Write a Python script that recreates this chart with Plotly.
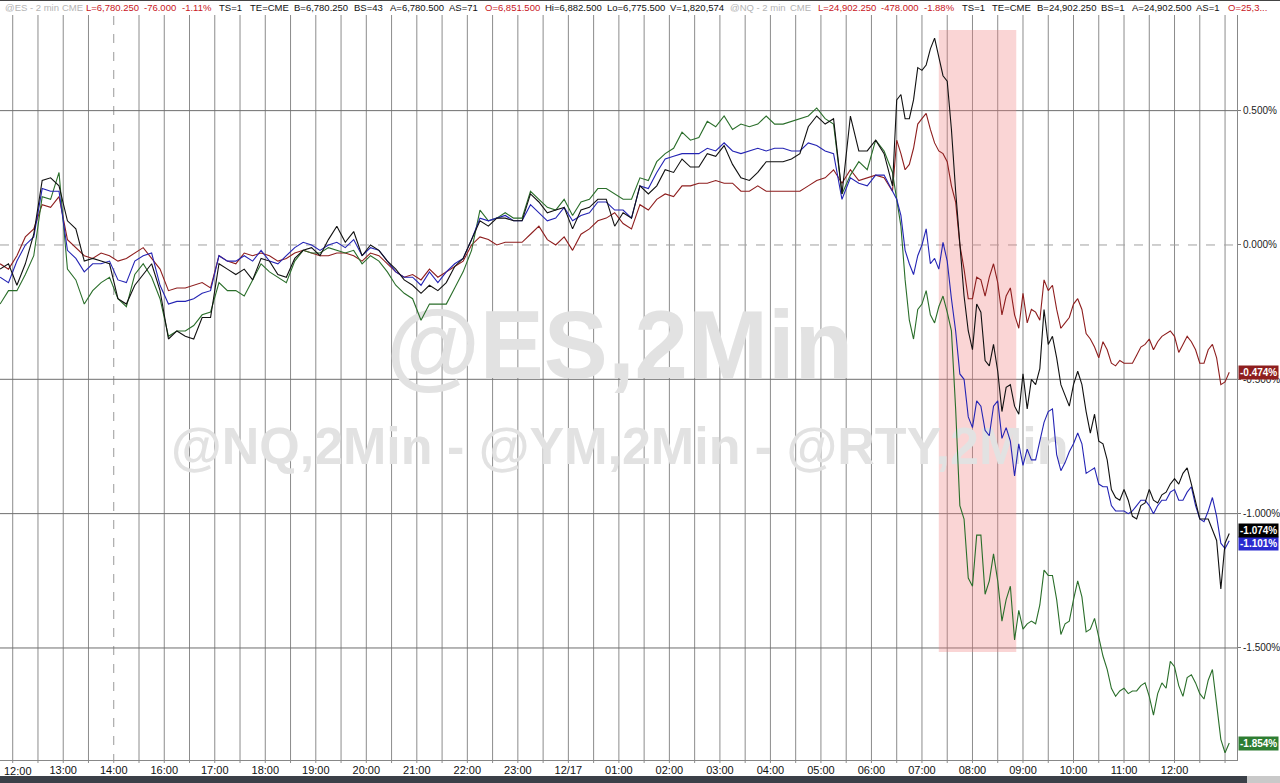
import pandas as pd
import plotly.graph_objects as go

# ---------------- time base (samples of the 2-min bars) ----------------
SESSION_OPEN = pd.Timestamp("2025-12-16 12:00")
BREAK_START = pd.Timestamp("2025-12-16 14:00")
BREAK_END = pd.Timestamp("2025-12-16 15:00")

times_a = pd.date_range("2025-12-16 11:45", "2025-12-17 06:15", freq="10min")
times_a = times_a[(times_a < BREAK_START) | (times_a >= BREAK_END)]
times_b = pd.date_range("2025-12-17 06:25", "2025-12-17 13:05", freq="5min")
bar_times = times_a.append(times_b)

# ---------------- % change series ----------------
ym_pct = [-0.07, -0.09, -0.04, 0.03, 0.06, 0.15, 0.14, 0.18, 0.02, -0.01,
          -0.04, -0.05, -0.03, -0.04, -0.06, -0.05, -0.03, -0.01, -0.05, -0.09,
          -0.17, -0.16, -0.16, -0.15, -0.14, -0.16, -0.04, -0.06, -0.07, -0.03,
          -0.04, -0.03, -0.04, -0.06, -0.05, -0.03, -0.02, -0.03, -0.04, -0.04,
          -0.03, -0.03, -0.04, -0.06, -0.03, -0.04, -0.07, -0.10, -0.12, -0.11,
          -0.13, -0.09, -0.12, -0.10, -0.08, -0.06, 0.00, 0.03, 0.02, 0.00,
          0.01, 0.01, 0.01, 0.04, 0.07, 0.02, 0.00, 0.03, -0.02, 0.04,
          0.06, 0.09, 0.10, 0.12, 0.08, 0.06, 0.15, 0.13, 0.17, 0.19,
          0.18, 0.22, 0.22, 0.23, 0.23, 0.24, 0.23, 0.23, 0.20, 0.20,
          0.22, 0.20, 0.20, 0.20, 0.20, 0.20, 0.22, 0.24, 0.25, 0.28,
          0.23, 0.28, 0.24, 0.25, 0.26, 0.25,
          0.20, 0.39, 0.34, 0.28, 0.30, 0.36, 0.45, 0.47, 0.49, 0.43,
          0.38, 0.35, 0.34, 0.31, 0.22, 0.16, 0.00, -0.09, -0.20, -0.20,
          -0.12, -0.13, -0.19, -0.12, -0.07, -0.14, -0.26, -0.19, -0.16, -0.26,
          -0.31, -0.18, -0.29, -0.24, -0.25, -0.28, -0.13, -0.17, -0.15, -0.24,
          -0.31, -0.29, -0.27, -0.22, -0.20, -0.24, -0.33, -0.35, -0.38, -0.42,
          -0.36, -0.39, -0.44, -0.45, -0.43, -0.44, -0.44, -0.44, -0.41, -0.38,
          -0.37, -0.35, -0.39, -0.36, -0.34, -0.33, -0.32, -0.34, -0.40, -0.37,
          -0.34, -0.36, -0.39, -0.44, -0.44, -0.39, -0.37, -0.42, -0.52, -0.51,
          -0.474]

nq_pct = [-0.09, -0.07, -0.15, -0.07, 0.04, 0.24, 0.25, 0.22, 0.09, 0.06,
          -0.06, -0.05, -0.06, -0.07, -0.20, -0.22, -0.15, -0.11, -0.07, -0.17,
          -0.35, -0.32, -0.34, -0.35, -0.27, -0.27, -0.07, -0.09, -0.11, -0.09,
          -0.13, -0.05, -0.06, -0.11, -0.12, -0.05, -0.02, -0.01, -0.04, 0.02,
          0.07, 0.01, 0.05, -0.04, 0.00, -0.02, -0.06, -0.09, -0.13, -0.15,
          -0.18, -0.15, -0.17, -0.14, -0.08, -0.05, 0.02, 0.09, 0.07, 0.10,
          0.10, 0.09, 0.09, 0.19, 0.16, 0.12, 0.13, 0.14, 0.06, 0.13,
          0.14, 0.17, 0.17, 0.07, 0.12, 0.10, 0.22, 0.19, 0.22, 0.28,
          0.27, 0.32, 0.29, 0.29, 0.34, 0.33, 0.37, 0.30, 0.25, 0.24,
          0.27, 0.31, 0.31, 0.31, 0.32, 0.34, 0.44, 0.48, 0.45, 0.47,
          0.19, 0.48, 0.35, 0.35, 0.39, 0.34,
          0.22, 0.54, 0.56, 0.47, 0.47, 0.54, 0.66, 0.65, 0.67, 0.73,
          0.77, 0.70, 0.63, 0.61, 0.43, 0.20, 0.00, -0.19, -0.32, -0.39,
          -0.22, -0.25, -0.43, -0.45, -0.37, -0.47, -0.62, -0.53, -0.52, -0.60,
          -0.63, -0.48, -0.61, -0.50, -0.52, -0.46, -0.24, -0.37, -0.34, -0.42,
          -0.52, -0.56, -0.60, -0.52, -0.47, -0.52, -0.62, -0.70, -0.63, -0.73,
          -0.74, -0.80, -0.91, -0.94, -0.95, -0.91, -0.95, -1.01, -1.02, -0.97,
          -0.96, -0.91, -0.95, -0.96, -0.93, -0.92, -0.89, -0.87, -0.89, -0.85,
          -0.83, -0.89, -0.96, -1.02, -1.02, -1.02, -1.06, -1.10, -1.28, -1.11,
          -1.074]

es_pct = [-0.12, -0.14, -0.06, 0.00, 0.03, 0.21, 0.20, 0.20, -0.02, -0.05,
          -0.10, -0.07, -0.07, -0.06, -0.13, -0.14, -0.06, -0.04, -0.03, -0.15,
          -0.22, -0.21, -0.21, -0.20, -0.18, -0.17, -0.04, -0.06, -0.06, -0.04,
          -0.06, -0.02, -0.06, -0.07, -0.04, -0.01, 0.01, 0.00, -0.02, 0.00,
          0.01, -0.01, 0.02, -0.04, -0.01, -0.02, -0.06, -0.10, -0.12, -0.12,
          -0.15, -0.10, -0.14, -0.10, -0.07, -0.05, 0.02, 0.10, 0.09, 0.10,
          0.11, 0.09, 0.09, 0.15, 0.12, 0.09, 0.10, 0.14, 0.09, 0.11,
          0.12, 0.16, 0.16, 0.13, 0.13, 0.10, 0.22, 0.21, 0.27, 0.32,
          0.33, 0.34, 0.34, 0.34, 0.36, 0.35, 0.38, 0.35, 0.34, 0.35,
          0.36, 0.35, 0.36, 0.36, 0.35, 0.35, 0.38, 0.37, 0.35, 0.34,
          0.17, 0.25, 0.23, 0.22, 0.26, 0.26,
          0.20, 0.17, 0.11, -0.02, -0.07, -0.11, -0.04, 0.00, 0.06, -0.07,
          -0.05, -0.09, 0.01, -0.06, -0.20, -0.32, -0.48, -0.50, -0.64, -0.68,
          -0.58, -0.60, -0.69, -0.71, -0.60, -0.58, -0.72, -0.68, -0.73, -0.86,
          -0.74, -0.82, -0.76, -0.80, -0.80, -0.73, -0.66, -0.62, -0.61, -0.78,
          -0.84, -0.81, -0.77, -0.74, -0.70, -0.74, -0.85, -0.84, -0.83, -0.89,
          -0.90, -0.90, -0.97, -0.99, -0.99, -0.99, -1.00, -0.99, -0.97, -0.95,
          -0.95, -0.97, -1.00, -0.97, -0.95, -0.95, -0.92, -0.91, -0.95, -0.95,
          -0.92, -0.90, -0.97, -1.02, -1.03, -0.99, -0.94, -1.01, -1.11, -1.13,
          -1.101]

rty_pct = [-0.22, -0.17, -0.17, -0.11, -0.04, 0.18, 0.17, 0.27, -0.09, -0.13,
           -0.22, -0.17, -0.14, -0.12, -0.20, -0.23, -0.11, -0.07, -0.12, -0.20,
           -0.34, -0.32, -0.32, -0.30, -0.26, -0.25, -0.14, -0.17, -0.17, -0.19,
           -0.13, -0.07, -0.10, -0.12, -0.14, -0.06, -0.02, -0.03, -0.03, -0.01,
           -0.02, -0.03, -0.02, -0.07, -0.04, -0.06, -0.10, -0.15, -0.18, -0.20,
           -0.28, -0.22, -0.22, -0.22, -0.16, -0.10, -0.02, 0.13, 0.09, 0.10,
           0.12, 0.10, 0.10, 0.20, 0.17, 0.14, 0.13, 0.17, 0.11, 0.16,
           0.17, 0.21, 0.21, 0.19, 0.17, 0.17, 0.25, 0.24, 0.31, 0.34,
           0.36, 0.42, 0.39, 0.40, 0.46, 0.44, 0.48, 0.43, 0.45, 0.44,
           0.45, 0.48, 0.45, 0.45, 0.46, 0.47, 0.48, 0.51, 0.47, 0.45,
           0.19, 0.26, 0.31, 0.28, 0.39, 0.35,
           0.27, 0.17, 0.07, -0.13, -0.28, -0.35, -0.24, -0.22, -0.17, -0.26,
           -0.29, -0.23, -0.19, -0.25, -0.32, -0.61, -0.97, -1.02, -1.24, -1.27,
           -1.08, -1.08, -1.30, -1.25, -1.15, -1.25, -1.40, -1.32, -1.27, -1.47,
           -1.36, -1.43, -1.41, -1.40, -1.41, -1.34, -1.21, -1.23, -1.23, -1.32,
           -1.45, -1.41, -1.40, -1.32, -1.25, -1.31, -1.44, -1.43, -1.39, -1.46,
           -1.53, -1.58, -1.65, -1.68, -1.66, -1.65, -1.67, -1.66, -1.66, -1.64,
           -1.63, -1.68, -1.75, -1.67, -1.63, -1.65, -1.55, -1.57, -1.64, -1.68,
           -1.61, -1.60, -1.63, -1.67, -1.69, -1.62, -1.58, -1.71, -1.84, -1.89,
           -1.854]

series_names = ["@YM", "@RTY", "@ES", "@NQ"]
series_values = [ym_pct, rty_pct, es_pct, nq_pct]
series_colors = ["#8e1e1e", "#2a6e2a", "#2424b4", "#111111"]
tag_colors = ["#8e1e1e", "#2e7d32", "#2a2ad0", "#000000"]
tag_shift = [0, 0, -3, 3]

y_tick_values = [-1.5, -1.0, -0.5, 0.0, 0.5]
y_tick_labels = ["-1.500%", "-1.000%", "-0.500%", "0.000%", "0.500%"]

highlight_start = pd.Timestamp("2025-12-17 07:20")
highlight_end = pd.Timestamp("2025-12-17 08:52")
highlight_low, highlight_high = -1.515, 0.80

watermark_main = "@ES,2Min"
watermark_sub = "@NQ,2Min - @YM,2Min - @RTY,2Min"

GRAY, RED, BLK = "#b4b4b4", "#c8161d", "#111111"
header_parts = [
    (3, "@ES - 2 min", GRAY), (60, "CME", GRAY),
    (84, "L=6,780.250", RED), (142, "-76.000", RED), (180, "-1.11%", RED),
    (217, "TS=1", BLK), (248, "TE=CME", BLK), (292, "B=6,780.250", BLK),
    (352, "BS=43", BLK), (388, "A=6,780.500", BLK), (447, "AS=71", BLK),
    (483, "O=6,851.500", RED), (543, "Hi=6,882.500", BLK),
    (605, "Lo=6,775.500", BLK), (668, "V=1,820,574", BLK),
    (728, "@NQ - 2 min", GRAY), (788, "CME", GRAY),
    (816, "L=24,902.250", RED), (879, "-478.000", RED), (922, "-1.88%", RED),
    (960, "TS=1", BLK), (990, "TE=CME", BLK), (1035, "B=24,902.250", BLK),
    (1099, "BS=1", BLK), (1130, "A=24,902.500", BLK), (1194, "AS=1", BLK),
    (1226, "O=25,3...", RED),
]


def axis_x(ts):
    """Minutes of trading clock since 12:00, with the session break removed."""
    ts = pd.Timestamp(ts)
    m = (ts - SESSION_OPEN).total_seconds() / 60.0
    gap = (BREAK_END - BREAK_START).total_seconds() / 60.0
    if ts >= BREAK_END:
        m -= gap
    elif ts > BREAK_START:
        m = (BREAK_START - SESSION_OPEN).total_seconds() / 60.0
    return m


x_vals = [axis_x(t) for t in bar_times]
for s in series_values:
    assert len(s) == len(x_vals), (len(s), len(x_vals))

# ---------------- figure geometry ----------------
W, H = 1280, 783
ML, MR, MT, MB = 0, 43, 15, 23
PW, PH = W - ML - MR, H - MT - MB

X_RANGE = [-15.1, 1454.2]
Y_RANGE = [-1.917, 0.856]

grid_times = [t for t in pd.date_range("2025-12-16 12:00", "2025-12-17 13:00", freq="30min")
              if not (BREAK_START < t <= BREAK_END)]
tick_vals, tick_text = [], []
for t in grid_times:
    tick_vals.append(axis_x(t))
    if t.minute == 0 and SESSION_OPEN < t <= pd.Timestamp("2025-12-17 12:00"):
        tick_text.append("12/17" if t.hour == 0 else t.strftime("%H:%M"))
    else:
        tick_text.append("")
first_label = SESSION_OPEN.strftime("%H:%M")

fig = go.Figure()

# watermarks (drawn first, under the lines)
fig.add_trace(go.Scatter(x=[721], y=[-0.405], mode="text", text=["<b>" + watermark_main + "</b>"],
                         textfont=dict(size=96, color="#e2e2e2", family="Liberation Sans, Arial"),
                         hoverinfo="skip", showlegend=False))
fig.add_trace(go.Scatter(x=[721], y=[-0.767], mode="text", text=["<b>" + watermark_sub + "</b>"],
                         textfont=dict(size=52, color="#e2e2e2", family="Liberation Sans, Arial"),
                         hoverinfo="skip", showlegend=False))

for name, vals, col in zip(series_names, series_values, series_colors):
    fig.add_trace(go.Scatter(x=x_vals, y=vals, mode="lines", name=name,
                             line=dict(color=col, width=1.1), hoverinfo="skip"))

shapes = []
shapes.append(dict(type="rect", xref="x", yref="y", layer="below",
                   x0=axis_x(highlight_start), x1=axis_x(highlight_end),
                   y0=highlight_low, y1=highlight_high,
                   fillcolor="rgba(240,128,128,0.33)", line=dict(width=0)))
for t in grid_times:
    dashed = (t == BREAK_START)
    shapes.append(dict(type="line", xref="x", yref="paper", layer="below",
                       x0=axis_x(t), x1=axis_x(t), y0=-3 / PH, y1=1,
                       line=dict(color="#9a9a9a" if dashed else "#8c8c8c", width=1,
                                 dash="dash" if dashed else "solid")))
for v in y_tick_values:
    shapes.append(dict(type="line", xref="paper", yref="y", layer="below",
                       x0=0, x1=1, y0=v, y1=v,
                       line=dict(color="#a0a0a0" if v == 0 else "#6e6e6e", width=1,
                                 dash="dash" if v == 0 else "solid")))
# bottom status bar
shapes.append(dict(type="rect", xref="paper", yref="paper", layer="above",
                   x0=0, x1=W / PW, y0=-16 / PH, y1=-23 / PH,
                   fillcolor="#3b4048", line=dict(width=0)))
shapes.append(dict(type="rect", xref="paper", yref="paper", layer="above",
                   x0=1247 / PW, x1=W / PW, y0=-16 / PH, y1=-23 / PH,
                   fillcolor="#c9c9c9", line=dict(width=0)))
# top border line
shapes.append(dict(type="rect", xref="paper", yref="paper", layer="above",
                   x0=0, x1=W / PW, y0=1 + (MT - 1) / PH, y1=1 + MT / PH,
                   fillcolor="#444", line=dict(width=0)))

annotations = []
for px, txt, col in header_parts:
    annotations.append(dict(xref="paper", yref="paper", x=px / PW, y=1 + (MT - 7.5) / PH,
                            xanchor="left", yanchor="middle", showarrow=False, text=txt,
                            font=dict(family="Liberation Sans, Arial", size=9.5, color=col)))
annotations.append(dict(xref="paper", yref="paper", x=2 / PW, y=-10.5 / PH,
                        xanchor="left", yanchor="middle", showarrow=False, text=first_label,
                        font=dict(family="Liberation Sans, Arial", size=11, color="#111")))

for vals, col, ys in zip(series_values, tag_colors, tag_shift):
    last = vals[-1]
    annotations.append(dict(xref="paper", yref="y", x=1, y=last, xanchor="left", yanchor="middle",
                            xshift=1, yshift=ys, showarrow=False, text="<b>%.3f%%</b>" % last,
                            font=dict(family="Liberation Sans, Arial", size=10, color="white"),
                            bgcolor=col, borderpad=1))

fig.update_layout(
    width=W, height=H, autosize=False,
    margin=dict(l=ML, r=MR, t=MT, b=MB),
    paper_bgcolor="white", plot_bgcolor="white", showlegend=False,
    font=dict(family="Liberation Sans, Arial, sans-serif", size=11, color="#222"),
    shapes=shapes, annotations=annotations,
)
fig.update_xaxes(range=X_RANGE, tickmode="array", tickvals=tick_vals, ticktext=tick_text,
                 showgrid=False, zeroline=False, ticks="", showline=True, linecolor="#888",
                 tickangle=0, automargin=False,
                 tickfont=dict(size=11, color="#111", family="Liberation Sans, Arial"))
fig.update_yaxes(range=Y_RANGE, side="right", tickmode="array", tickvals=y_tick_values,
                 ticktext=y_tick_labels, showgrid=False, zeroline=False, ticks="outside",
                 ticklen=3, tickcolor="#777", showline=True, linecolor="#888",
                 automargin=False,
                 tickfont=dict(size=10, color="#222", family="Liberation Sans, Arial"))

fig.write_html("out.html", include_plotlyjs=True, config={"displayModeBar": False},
               post_script="document.body.style.margin='0';document.body.style.overflow='hidden';")
